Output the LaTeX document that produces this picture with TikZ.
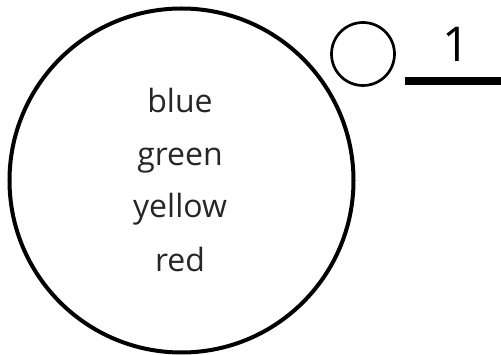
\documentclass[tikz,border=0pt]{standalone}
\usepackage{fontspec}
\setmainfont{Open Sans}
\begin{document}
\begin{tikzpicture}[x=1pt,y=-1pt,
  word/.style={anchor=base,inner sep=0pt,font=\fontsize{32}{32}\selectfont,text=black!85},
  ring/.style={draw=black,fill=none}]
\useasboundingbox (0,0) rectangle (501,355);
\node[ring,circle,line width=4pt,minimum size=344pt,inner sep=0pt] (big) at (181.5,180.5) {};
\node[ring,circle,line width=2.7pt,minimum size=63pt,inner sep=0pt] (small) at (363,54) {};
\node[word] (w1) at (180,113) {blue};
\node[word] (w2) at (180,166) {green};
\node[word] (w3) at (180,218) {yellow};
\node[word] (w4) at (180,272) {red};
\node[anchor=base,inner sep=0pt,font=\fontsize{48}{48}\selectfont] (one) at (456,62) {1};
\coordinate (l1) at (405,81);
\coordinate (l2) at (501,81);
\draw[line width=8pt] (l1) -- (l2);
\end{tikzpicture}
\end{document}
